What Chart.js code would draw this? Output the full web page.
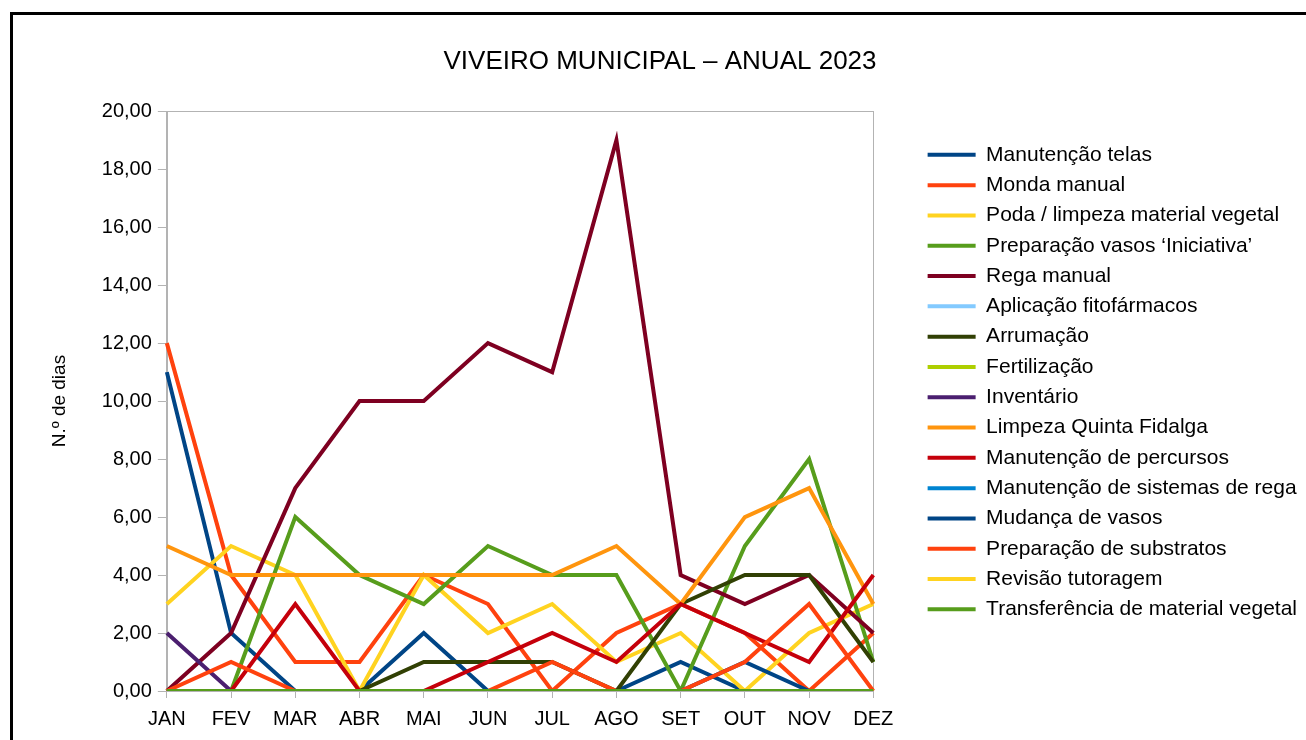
<!DOCTYPE html>
<html lang="pt">
<head>
<meta charset="UTF-8">
<title>Viveiro Municipal - Anual 2023</title>
<script src="https://cdn.jsdelivr.net/npm/chart.js@4.4.0/dist/chart.umd.min.js"></script>
<style>
    html, body { margin: 0; padding: 0; background: #fff; overflow: hidden; }
    #moldura { position: absolute; left: 10px; top: 12px; width: 1294px; height: 740px; border: 3px solid #000; }
    #grafico { display: block; }
</style>
</head>
<body>
<div id="moldura"><canvas id="grafico" width="1294" height="725"></canvas></div>
<script>
// meses (eixo X)
const meses = ['JAN', 'FEV', 'MAR', 'ABR', 'MAI', 'JUN', 'JUL', 'AGO', 'SET', 'OUT', 'NOV', 'DEZ'];

// n.º de dias por tarefa
const manutencaoTelas      = [11, 2, 0, 0, 2, 0, 0, 0, 1, 0, 0, 0];
const mondaManual          = [12, 4, 1, 1, 4, 3, 0, 2, 3, 2, 0, 2];
const podaLimpeza          = [3, 5, 4, 0, 4, 2, 3, 1, 2, 0, 2, 3];
const prepVasosIniciativa  = [0, 0, 6, 4, 3, 5, 4, 4, 0, 5, 8, 1];
const regaManual           = [0, 2, 7, 10, 10, 12, 11, 19, 4, 3, 4, 2];
const aplicacaoFito        = [0, 0, 0, 0, 0, 0, 0, 0, 0, 0, 0, 0];
const arrumacao            = [0, 0, 0, 0, 1, 1, 1, 0, 3, 4, 4, 1];
const fertilizacao         = [0, 0, 0, 0, 0, 0, 0, 0, 0, 0, 0, 0];
const inventario           = [2, 0, 0, 0, 0, 0, 0, 0, 0, 0, 0, 0];
const limpezaQuinta        = [5, 4, 4, 4, 4, 4, 4, 5, 3, 6, 7, 3];
const manutPercursos       = [0, 0, 3, 0, 0, 1, 2, 1, 3, 2, 1, 4];
const manutSistemasRega    = [0, 0, 0, 0, 0, 0, 0, 0, 0, 0, 0, 0];
const mudancaVasos         = [0, 0, 0, 0, 0, 0, 0, 0, 0, 1, 0, 0];
const prepSubstratos       = [0, 1, 0, 0, 0, 0, 1, 0, 0, 1, 3, 0];
const revisaoTutoragem     = [0, 0, 0, 0, 0, 0, 0, 0, 0, 0, 0, 0];
const transferencia        = [0, 0, 0, 0, 0, 0, 0, 0, 0, 0, 0, 0];

const tarefas = [
    'Manutenção telas', 'Monda manual', 'Poda / limpeza material vegetal',
    'Preparação vasos ‘Iniciativa’', 'Rega manual', 'Aplicação fitofármacos',
    'Arrumação', 'Fertilização', 'Inventário', 'Limpeza Quinta Fidalga',
    'Manutenção de percursos', 'Manutenção de sistemas de rega', 'Mudança de vasos',
    'Preparação de substratos', 'Revisão tutoragem', 'Transferência de material vegetal'
];
const valores = [
    manutencaoTelas, mondaManual, podaLimpeza, prepVasosIniciativa, regaManual,
    aplicacaoFito, arrumacao, fertilizacao, inventario, limpezaQuinta,
    manutPercursos, manutSistemasRega, mudancaVasos, prepSubstratos,
    revisaoTutoragem, transferencia
];
const cores = [
    '#004586', '#ff420e', '#ffd320', '#579d1c', '#7e0021', '#83caff',
    '#314004', '#aecf00', '#4b1f6f', '#ff950e', '#c5000b', '#0084d1',
    '#004586', '#ff420e', '#ffd320', '#579d1c'
];

const fonte = "'Liberation Sans', Arial, sans-serif";
const cinza = '#b3b3b3';

// acertos de posição: legenda e título como no original
const DX = 45, DY = -19, CENTRO_TITULO = 647;
const acertos = {
    id: 'acertos',
    afterLayout(chart) {
        const l = chart.legend;
        l.left += DX; l.right += DX;
        l.top += DY; l.bottom += DY;
        const t = chart.titleBlock;
        const d = CENTRO_TITULO - (t.left + t.right) / 2;
        t.left += d; t.right += d;
    }
};

// contorno cinzento da área do gráfico
const contorno = {
    id: 'contorno',
    beforeDatasetsDraw(chart) {
        const {ctx, chartArea: a} = chart;
        ctx.save();
        ctx.strokeStyle = cinza;
        ctx.lineWidth = 1;
        ctx.strokeRect(Math.round(a.left) + 0.5, Math.round(a.top) + 0.5,
            Math.round(a.right - a.left), Math.round(a.bottom - a.top));
        ctx.restore();
    }
};

// a última série fica por cima, como no LibreOffice
const datasets = tarefas.map((nome, i) => ({
    label: nome,
    data: valores[i],
    order: tarefas.length - i,
    borderColor: cores[i],
    backgroundColor: cores[i],
    borderWidth: 4,
    pointRadius: 0,
    pointHoverRadius: 0,
    tension: 0,
    fill: false,
    pointStyle: 'line'
}));

new Chart(document.getElementById('grafico'), {
    type: 'line',
    data: { labels: meses, datasets: datasets },
    plugins: [acertos, contorno],
    options: {
        responsive: false,
        animation: false,
        events: [],
        layout: { padding: { top: 0, left: 0, right: 45, bottom: 0 } },
        plugins: {
            title: {
                display: true,
                text: 'VIVEIRO MUNICIPAL – ANUAL 2023',
                color: '#000',
                font: { family: fonte, size: 26, weight: 'normal' },
                padding: { top: 31, bottom: 34 }
            },
            legend: {
                position: 'right',
                fullSize: false,
                maxWidth: 420,
                labels: {
                    usePointStyle: true,
                    pointStyleWidth: 48,
                    padding: 9.3,
                    color: '#000',
                    font: { family: fonte, size: 21 },
                    sort: (a, b) => a.datasetIndex - b.datasetIndex
                }
            },
            tooltip: { enabled: false }
        },
        scales: {
            x: {
                grid: { drawOnChartArea: false, drawTicks: true, tickLength: 7, color: cinza },
                border: { color: cinza },
                ticks: { color: '#000', padding: 9, maxRotation: 0, font: { family: fonte, size: 20 } }
            },
            y: {
                min: 0,
                max: 20,
                grid: { drawOnChartArea: false, drawTicks: true, tickLength: 9, color: cinza },
                border: { color: cinza },
                ticks: {
                    stepSize: 2,
                    color: '#000',
                    padding: 6,
                    font: { family: fonte, size: 20 },
                    callback: v => v.toFixed(2).replace('.', ',')
                },
                title: {
                    display: true,
                    text: 'N.º de dias',
                    color: '#000',
                    font: { family: fonte, size: 19 },
                    padding: { top: 35, bottom: 25 }
                }
            }
        }
    }
});
</script>
</body>
</html>
